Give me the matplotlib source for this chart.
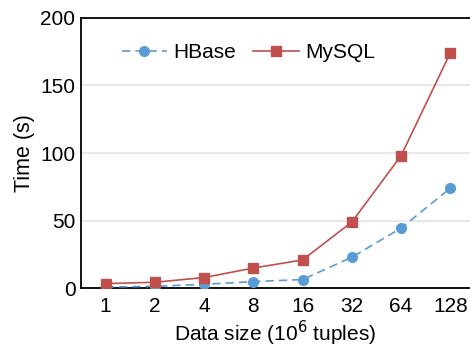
import matplotlib
matplotlib.use("Agg")
import matplotlib.pyplot as plt

categories = ["1", "2", "4", "8", "16", "32", "64", "128"]
hbase = [1.0, 1.5, 3.0, 5.0, 6.5, 23.0, 44.5, 74.0]
mysql = [3.5, 4.5, 8.0, 15.0, 21.0, 49.0, 98.0, 174.0]
yticks = [0, 50, 100, 150, 200]

plt.rcParams['font.family'] = ['Liberation Sans', 'DejaVu Sans']

fig = plt.figure(figsize=(4.7, 3.47), dpi=100)
ax = fig.add_axes([0.1723, 0.169, 0.8277, 0.78])

x = list(range(len(categories)))
ax.plot(x, hbase, linestyle=(0, (5, 3)), color='#5B9BD5', marker='o', markersize=7,
        linewidth=1.2, label='HBase', zorder=3)
ax.plot(x, mysql, linestyle='-', color='#C0504D', marker='s', markersize=7,
        linewidth=1.2, label='MySQL', zorder=3)

ax.set_xlim(-0.5, 7.4)
ax.set_ylim(0, 200)
ax.set_yticks(yticks)
ax.set_xticks(x)
ax.set_xticklabels(categories)
ax.tick_params(axis='both', labelsize=15, length=0, pad=4)
ax.tick_params(axis='x', pad=6)
ax.yaxis.grid(True, color='#e3e3e3', linewidth=1.2)
ax.set_axisbelow(True)
for s in ['left', 'bottom', 'top']:
    ax.spines[s].set_linewidth(1.3)
    ax.spines[s].set_color('black')
ax.spines['right'].set_visible(False)

ax.set_ylabel('Time (s)', fontsize=15.5, labelpad=4)
ax.set_xlabel('Data size (10$^6$ tuples)', fontsize=15, labelpad=2)

ax.legend(loc='upper center', bbox_to_anchor=(0.43, 0.975), ncol=2, frameon=False,
          fontsize=15, handlelength=2.2, columnspacing=0.8, handletextpad=0.3)

fig.savefig('out.png', dpi=100)
